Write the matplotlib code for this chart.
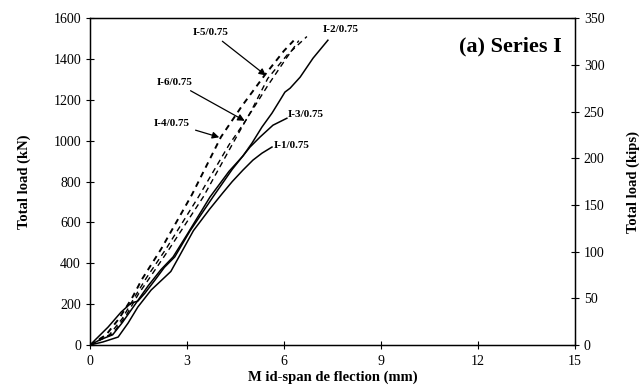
import matplotlib
matplotlib.use("Agg")
import matplotlib.pyplot as plt

plt.rcParams['font.family'] = ['Liberation Serif', 'DejaVu Serif']

# ---- data (mm, kN) ----
i1_x = [0, 0.4, 0.87, 1.18, 1.48, 1.89, 2.32, 2.5, 2.75, 3.2, 3.7, 4.11, 4.4, 4.73, 5.04, 5.32, 5.63]
i1_y = [0, 15, 39, 108, 186, 269, 333, 360, 431, 560, 665, 745, 800, 856, 905, 939, 969]

i2_x = [0, 0.3, 0.7, 1.0, 1.4, 1.8, 2.2, 2.57, 3.0, 3.71, 4.3, 4.73, 5.01, 5.32, 5.63, 5.88, 6.03, 6.19, 6.5, 6.9, 7.36]
i2_y = [0, 25, 50, 110, 200, 290, 370, 431, 540, 724, 850, 925, 988, 1067, 1135, 1199, 1238, 1257, 1311, 1404, 1492]

i3_x = [0, 0.56, 0.96, 1.27, 1.48, 1.7, 2.01, 2.3, 2.62, 3.1, 3.8, 4.4, 4.95, 5.26, 5.66, 6.09]
i3_y = [0, 88, 161, 205, 215, 254, 318, 380, 431, 560, 724, 860, 969, 1018, 1076, 1110]

i4_x = [0, 0.5, 0.9, 1.3, 1.6, 2.2, 3.15, 4.05, 4.7, 5.4, 6.0, 6.3]
i4_y = [0, 50, 130, 230, 320, 470, 735, 1018, 1170, 1320, 1440, 1490]

i5_x = [0, 0.7, 1.1, 1.5, 1.85, 2.45, 3.5, 4.5, 5.0, 5.5, 6.1, 6.71]
i5_y = [0, 55, 140, 250, 330, 470, 724, 1010, 1150, 1305, 1420, 1510]

i6_x = [0, 0.6, 1.0, 1.4, 1.75, 2.35, 3.35, 4.3, 4.8, 5.5, 6.1, 6.46]
i6_y = [0, 50, 130, 240, 330, 470, 724, 980, 1095, 1270, 1410, 1490]

x_ticks = [0, 3, 6, 9, 12, 15]
y_ticks = [0, 200, 400, 600, 800, 1000, 1200, 1400, 1600]
kip_ticks = [0, 50, 100, 150, 200, 250, 300, 350]

fig = plt.figure(figsize=(6.43, 3.91), dpi=100)
ax = fig.add_axes([0.14, 0.1176, 0.754, 0.836])

lw = 1.1
ax.plot(i1_x, i1_y, color='black', lw=lw)
ax.plot(i2_x, i2_y, color='black', lw=lw)
ax.plot(i3_x, i3_y, color='black', lw=lw)
ax.plot(i4_x, i4_y, color='black', lw=1.4, ls=(0, (3, 2.5)))
ax.plot(i5_x, i5_y, color='black', lw=1.0, ls=(0, (4, 3)))
ax.plot(i6_x, i6_y, color='black', lw=1.0, ls=(0, (4, 3)))

ax.set_xlim(0, 15)
ax.set_ylim(0, 1600)
ax.set_xticks(x_ticks)
ax.set_yticks(y_ticks)
ax.tick_params(direction='inout', length=6, width=0.8, labelsize=10)
ax.tick_params(axis='x', pad=4)

for s in ax.spines.values():
    s.set_linewidth(1.0)

ax.set_xlabel('M id-span de flection (mm)', fontsize=10.5, fontweight='bold', labelpad=2)
ax.set_ylabel('Total load (kN)', fontsize=10.5, fontweight='bold', labelpad=16)

ax2 = ax.twinx()
ax2.set_ylim(0, 350)
ax2.set_yticks(kip_ticks)
ax2.tick_params(direction='inout', length=6, width=0.8, labelsize=10)
ax2.set_ylabel('Total load (kips)', fontsize=10.5, fontweight='bold', labelpad=16)

ax.text(14.6, 1460, '(a) Series I', fontsize=16, fontweight='bold', ha='right', va='center')

lab = dict(fontsize=8, fontweight='bold', va='center')
ax.text(7.2, 1546, 'I-2/0.75', ha='left', **lab)
ax.text(6.12, 1130, 'I-3/0.75', ha='left', **lab)
ax.text(5.68, 975, 'I-1/0.75', ha='left', **lab)

arr = dict(arrowstyle='-|>', color='black', lw=0.9, mutation_scale=10)
ax.annotate('I-5/0.75', xy=(5.51, 1311), xytext=(3.74, 1531), ha='center', arrowprops=arr, **lab)
ax.annotate('I-6/0.75', xy=(4.86, 1091), xytext=(2.63, 1287), ha='center', arrowprops=arr, **lab)
ax.annotate('I-4/0.75', xy=(4.08, 1013), xytext=(2.54, 1086), ha='center', arrowprops=arr, **lab)

fig.savefig('out.png', dpi=100)
